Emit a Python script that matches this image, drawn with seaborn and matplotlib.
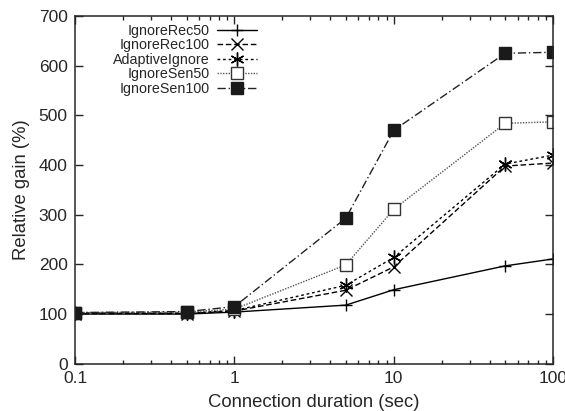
import numpy as np
import pandas as pd
import seaborn as sns
import matplotlib
matplotlib.use("Agg")
import matplotlib.pyplot as plt
from matplotlib.ticker import LogLocator, FixedLocator

# data
durations = [0.1, 0.5, 1, 5, 10, 50, 100]
ignore_rec50 = [100, 100, 104, 118, 149, 197, 211]
ignore_rec100 = [101, 101, 106, 148, 195, 398, 404]
adaptive_ignore = [102, 102, 107, 158, 214, 402, 420]
ignore_sen50 = [103, 104, 110, 199, 311, 484, 487]
ignore_sen100 = [103, 105, 115, 293, 470, 625, 627]

series_names = ["IgnoreRec50", "IgnoreRec100", "AdaptiveIgnore", "IgnoreSen50", "IgnoreSen100"]
series_values = [ignore_rec50, ignore_rec100, adaptive_ignore, ignore_sen50, ignore_sen100]

sns.set_style("ticks")
plt.rcParams["font.family"] = ["Liberation Sans", "DejaVu Sans"]

fig = plt.figure(figsize=(5.65, 4.11), dpi=100)
ax = fig.add_axes([0.133, 0.115, 0.846, 0.846])

styles = {
    "IgnoreRec50": dict(color="black", linestyle="-", marker="+", markersize=9, mfc="black"),
    "IgnoreRec100": dict(color="black", linestyle=(0, (4, 2)), marker="x", markersize=8, mfc="black"),
    "AdaptiveIgnore": dict(color="black", linestyle=(0, (2, 2)), marker=(6, 2, 0), markersize=10, mfc="black"),
    "IgnoreSen50": dict(color="#555555", linestyle=(0, (1, 1)), marker="s", markersize=8,
                        mfc="white", mec="#333333"),
    "IgnoreSen100": dict(color="#222222", linestyle=(0, (6, 2, 1, 2)), marker="s", markersize=8,
                         mfc="#1a1a1a", mec="#1a1a1a"),
}

for name, vals in zip(series_names, series_values):
    df = pd.DataFrame({"duration": durations, "gain": vals})
    st = styles[name]
    sns.lineplot(data=df, x="duration", y="gain", ax=ax, label=name,
                 color=st["color"], linestyle=st["linestyle"], marker=st["marker"],
                 markersize=st["markersize"], markerfacecolor=st["mfc"],
                 markeredgecolor=st.get("mec", "black"), markeredgewidth=1.0,
                 linewidth=1.0)

ax.set_xscale("log")
ax.set_xlim(0.1, 100)
ax.set_ylim(0, 700)
ax.set_xticks([0.1, 1, 10, 100])
ax.set_xticklabels(["0.1", "1", "10", "100"])
ax.xaxis.set_minor_locator(LogLocator(base=10, subs=np.arange(2, 10)))
ax.yaxis.set_major_locator(FixedLocator(range(0, 701, 100)))
ax.tick_params(which="both", direction="in", top=True, right=True, labelsize=12.5)
ax.tick_params(which="major", length=6, width=1)
ax.tick_params(which="minor", length=3, width=1)
ax.tick_params(axis="x", pad=5)
ax.tick_params(axis="y", pad=5.5)
for s in ax.spines.values():
    s.set_linewidth(1.1)
    s.set_visible(True)

ax.set_xlabel("Connection duration (sec)", fontsize=13.3, labelpad=6)
ax.set_ylabel("Relative gain (%)", fontsize=13.3, labelpad=6)

ax.legend(loc="upper right", bbox_to_anchor=(0.38, 0.977), frameon=False, markerfirst=False,
          fontsize=10.3, handlelength=2.8, labelspacing=0.03, borderaxespad=0.0,
          borderpad=0.0, handletextpad=0.5)

fig.savefig("out.png", dpi=100)
